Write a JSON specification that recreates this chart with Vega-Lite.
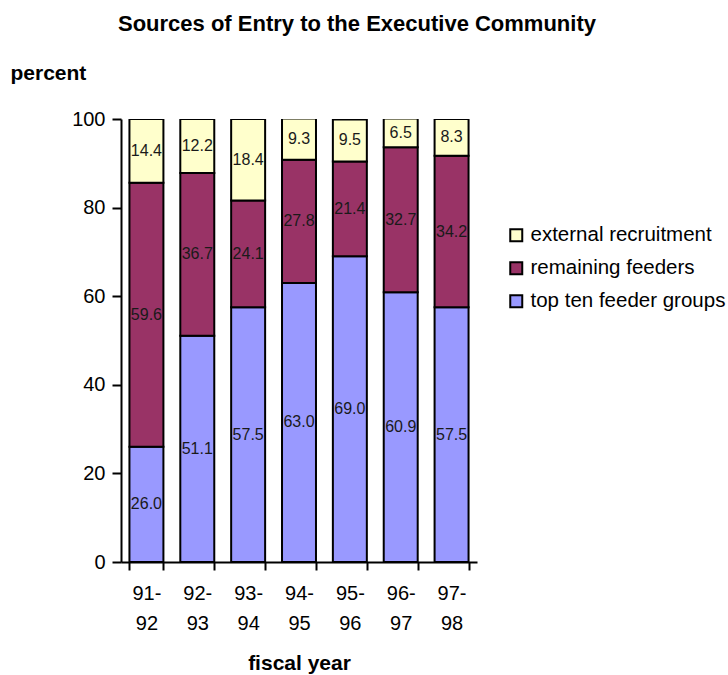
{
  "$schema": "https://vega.github.io/schema/vega-lite/v6.json",
  "width": 356,
  "height": 443,
  "autosize": "none",
  "padding": {"left": 121, "top": 119, "right": 251, "bottom": 113},
  "title": {
    "text": "Sources of Entry to the Executive Community",
    "font": "Liberation Sans",
    "fontSize": 22,
    "fontWeight": "bold",
    "anchor": "start",
    "frame": "group",
    "dx": -3,
    "baseline": "alphabetic",
    "offset": 9,
    "color": "black"
  },
  "data": {
    "values": [
      {"year": "91-92", "series": "top ten feeder groups", "rank": 1, "value": 26.0},
      {"year": "91-92", "series": "remaining feeders", "rank": 2, "value": 59.6},
      {"year": "91-92", "series": "external recruitment", "rank": 3, "value": 14.4},
      {"year": "92-93", "series": "top ten feeder groups", "rank": 1, "value": 51.1},
      {"year": "92-93", "series": "remaining feeders", "rank": 2, "value": 36.7},
      {"year": "92-93", "series": "external recruitment", "rank": 3, "value": 12.2},
      {"year": "93-94", "series": "top ten feeder groups", "rank": 1, "value": 57.5},
      {"year": "93-94", "series": "remaining feeders", "rank": 2, "value": 24.1},
      {"year": "93-94", "series": "external recruitment", "rank": 3, "value": 18.4},
      {"year": "94-95", "series": "top ten feeder groups", "rank": 1, "value": 63.0},
      {"year": "94-95", "series": "remaining feeders", "rank": 2, "value": 27.8},
      {"year": "94-95", "series": "external recruitment", "rank": 3, "value": 9.3},
      {"year": "95-96", "series": "top ten feeder groups", "rank": 1, "value": 69.0},
      {"year": "95-96", "series": "remaining feeders", "rank": 2, "value": 21.4},
      {"year": "95-96", "series": "external recruitment", "rank": 3, "value": 9.5},
      {"year": "96-97", "series": "top ten feeder groups", "rank": 1, "value": 60.9},
      {"year": "96-97", "series": "remaining feeders", "rank": 2, "value": 32.7},
      {"year": "96-97", "series": "external recruitment", "rank": 3, "value": 6.5},
      {"year": "97-98", "series": "top ten feeder groups", "rank": 1, "value": 57.5},
      {"year": "97-98", "series": "remaining feeders", "rank": 2, "value": 34.2},
      {"year": "97-98", "series": "external recruitment", "rank": 3, "value": 8.3}
    ]
  },
  "encoding": {
    "x": {
      "field": "year",
      "type": "nominal",
      "sort": null,
      "scale": {"paddingInner": 0.332, "paddingOuter": 0.166},
      "axis": {
        "labelExpr": "[slice(datum.label, 0, 3), slice(datum.label, 3)]",
        "labelAngle": 0,
        "labelFontSize": 20,
        "labelLineHeight": 30,
        "labelBaseline": "top",
        "labelPadding": 13,
        "labelColor": "black",
        "tickBand": "extent",
        "tickSize": 8,
        "tickWidth": 2,
        "tickColor": "black",
        "domainColor": "black",
        "domainWidth": 2,
        "title": "fiscal year",
        "titleFontSize": 21,
        "titleFontWeight": "bold",
        "titleColor": "black",
        "titlePadding": 19
      }
    }
  },
  "layer": [
    {
      "mark": {"type": "bar", "stroke": "black", "strokeWidth": 2, "clip": true},
      "encoding": {
        "y": {
          "field": "value",
          "type": "quantitative",
          "stack": "zero",
          "scale": {"domain": [0, 100], "nice": false},
          "axis": {
            "values": [0, 20, 40, 60, 80, 100],
            "grid": false,
            "labelFontSize": 20,
            "labelColor": "black",
            "labelPadding": 7,
            "tickSize": 9,
            "tickWidth": 2,
            "tickColor": "black",
            "domainColor": "black",
            "domainWidth": 2,
            "title": "percent",
            "titleAngle": 0,
            "titleAlign": "left",
            "titleBaseline": "alphabetic",
            "titleX": -111,
            "titleY": -40,
            "titleFontSize": 21,
            "titleFontWeight": "bold",
            "titleColor": "black"
          }
        },
        "order": {"field": "rank", "type": "quantitative"},
        "color": {
          "field": "series",
          "type": "nominal",
          "scale": {
            "domain": ["external recruitment", "remaining feeders", "top ten feeder groups"],
            "range": ["#FFFFCC", "#993366", "#9999FF"]
          },
          "legend": {
            "title": null,
            "orient": "none",
            "legendX": 385,
            "legendY": 106,
            "symbolType": "square",
            "symbolSize": 144,
            "symbolStrokeColor": "black",
            "symbolStrokeWidth": 2,
            "symbolOpacity": 1,
            "labelFontSize": 20.5,
            "labelColor": "black",
            "labelOffset": 4,
            "rowPadding": 12,
            "padding": 0,
            "labelLimit": 400
          }
        }
      }
    },
    {
      "transform": [
        {"stack": "value", "groupby": ["year"], "sort": [{"field": "rank", "order": "ascending"}], "as": ["v0", "v1"]},
        {"calculate": "(datum.v0 + datum.v1) / 2", "as": "mid"}
      ],
      "mark": {"type": "text", "fontSize": 16, "color": "#1a1a1a"},
      "encoding": {
        "y": {"field": "mid", "type": "quantitative"},
        "text": {"field": "value", "type": "quantitative", "format": ".1f"}
      }
    }
  ],
  "config": {
    "font": "Liberation Sans",
    "view": {"stroke": null}
  }
}
